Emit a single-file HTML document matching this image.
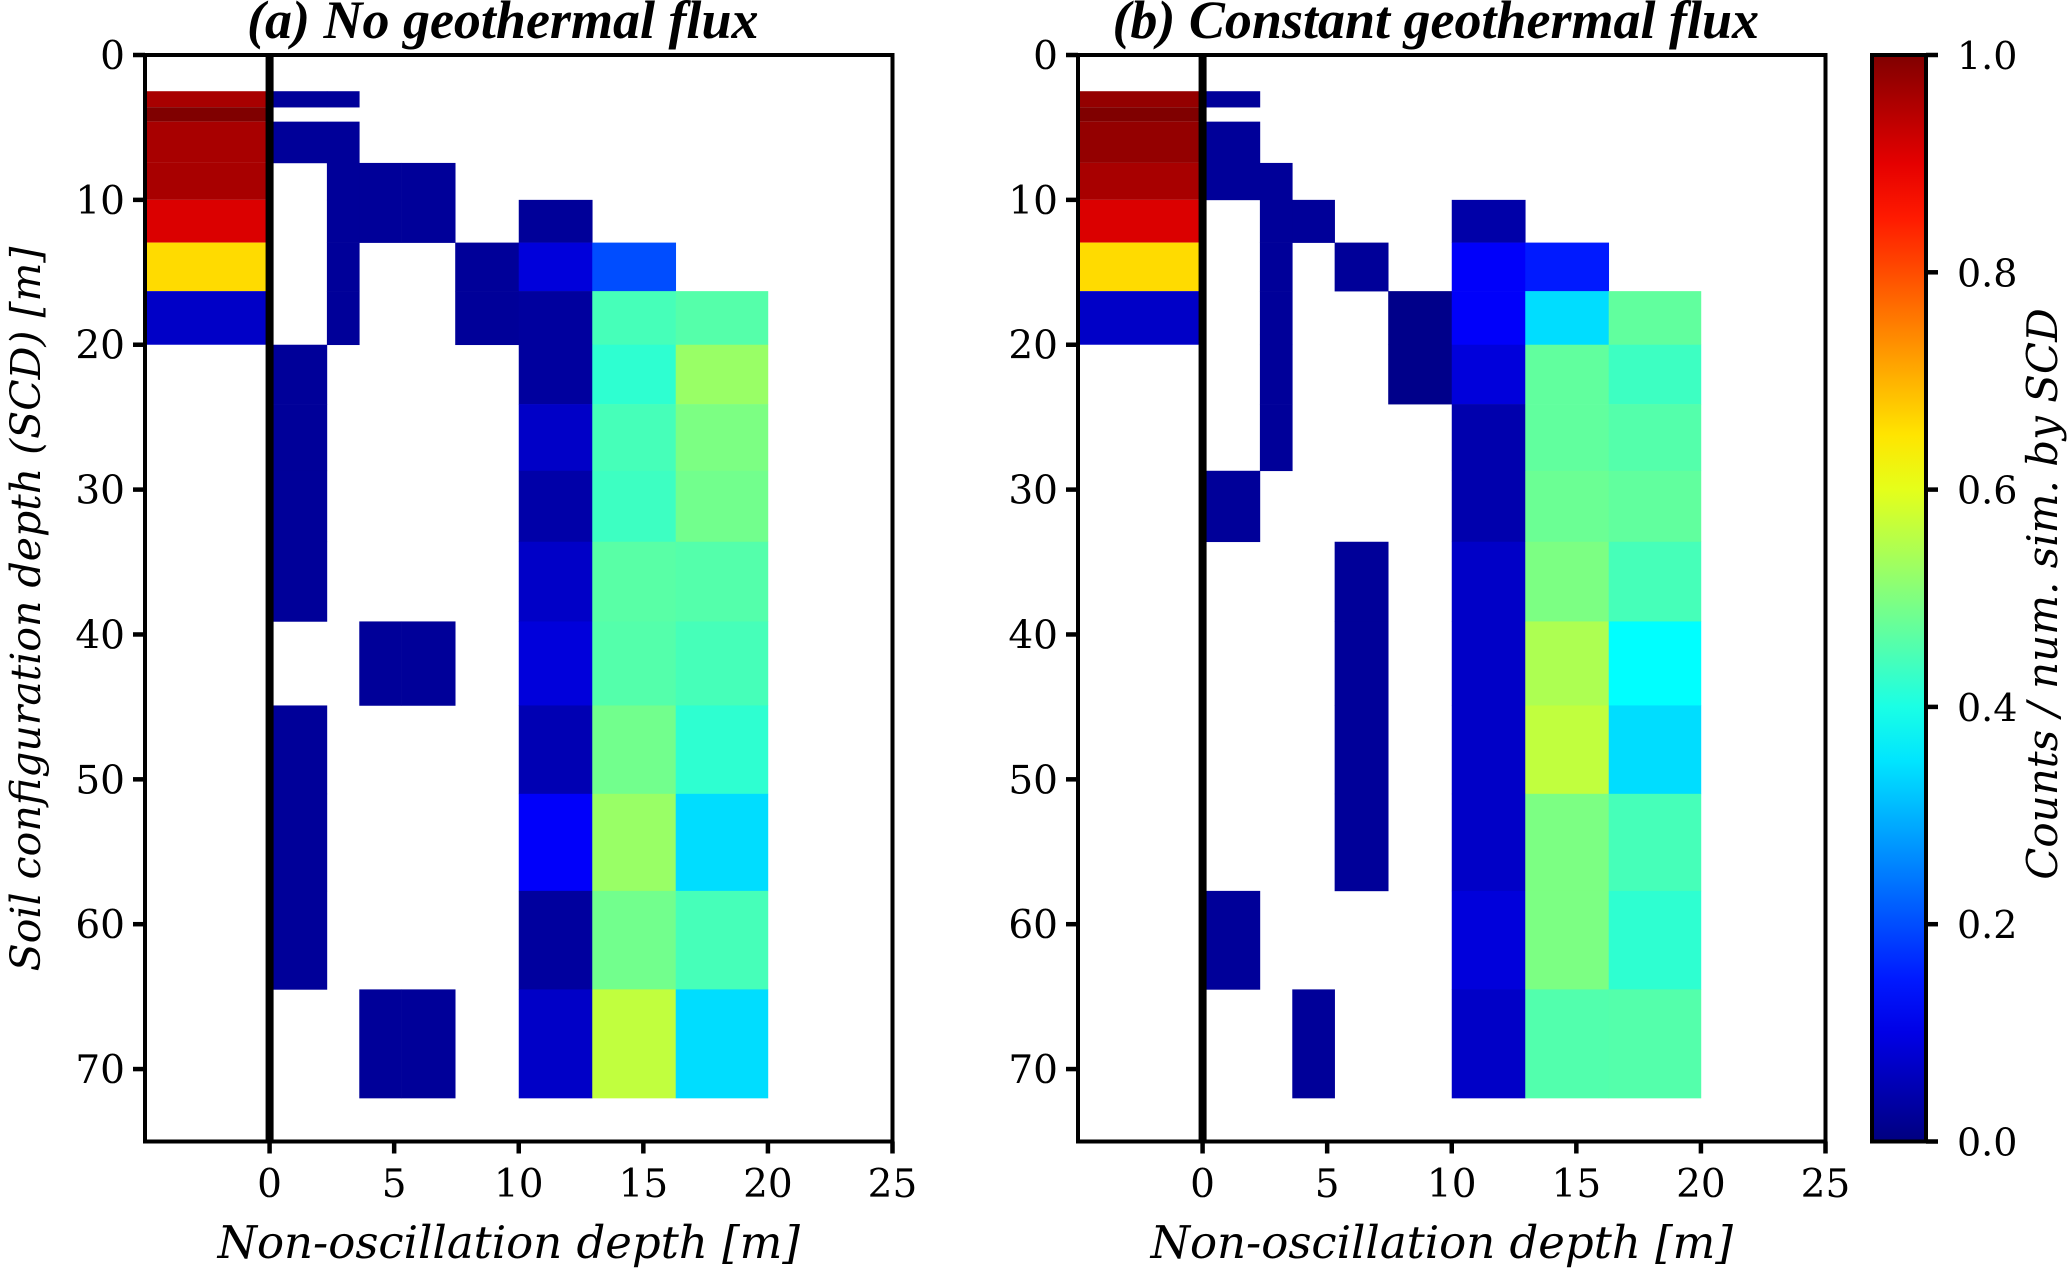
<!DOCTYPE html>
<html><head><meta charset="utf-8"><style>
html,body{margin:0;padding:0;background:#fff;}
svg{display:block;font-family:"DejaVu Serif","Liberation Serif",serif;}
</style></head><body>
<svg id="chart" width="2067" height="1271" viewBox="0 0 2067 1271" xmlns="http://www.w3.org/2000/svg"></svg>
<script>
// ---- data ----
const rowEdges = [2.5, 3.6, 4.6, 7.45, 10, 12.95, 16.3, 20, 24.1, 28.7, 33.6, 39.1, 44.9, 51, 57.7, 64.5, 72];
const colEdges = [0, 2.3, 3.6, 5.3, 7.45, 10, 12.95, 16.3, 20];
const scdLeftA = [0.96, 1.0, 0.96, 0.96, 0.91, 0.66, 0.07, null, null, null, null, null, null, null, null, null];
const scdLeftB = [0.98, 1.0, 0.98, 0.96, 0.91, 0.66, 0.07, null, null, null, null, null, null, null, null, null];
const N = null;
const valuesA = [
  [0.025, 0.025, N, N, N, N, N, N],
  [N, N, N, N, N, N, N, N],
  [0.025, 0.025, N, N, N, N, N, N],
  [N, 0.025, 0.025, 0.025, N, N, N, N],
  [N, 0.025, 0.025, 0.025, N, 0.025, N, N],
  [N, 0.025, N, N, 0.025, 0.09, 0.2, N],
  [N, 0.025, N, N, 0.025, 0.03, 0.444, 0.458],
  [0.025, N, N, N, N, 0.03, 0.42, 0.525],
  [0.025, N, N, N, N, 0.07, 0.444, 0.497],
  [0.025, N, N, N, N, 0.04, 0.435, 0.487],
  [0.025, N, N, N, N, 0.07, 0.462, 0.457],
  [N, N, 0.025, 0.025, N, 0.09, 0.457, 0.444],
  [0.025, N, N, N, N, 0.05, 0.487, 0.42],
  [0.025, N, N, N, N, 0.12, 0.525, 0.342],
  [0.025, N, N, N, N, 0.03, 0.487, 0.444],
  [N, N, 0.025, 0.025, N, 0.07, 0.564, 0.342]
];
const valuesB = [
  [0.025, N, N, N, N, N, N, N],
  [N, N, N, N, N, N, N, N],
  [0.025, N, N, N, N, N, N, N],
  [0.025, 0.025, N, N, N, N, N, N],
  [N, 0.025, 0.025, N, N, 0.04, N, N],
  [N, 0.025, N, 0.025, N, 0.12, 0.15, N],
  [N, 0.025, N, N, 0.01, 0.12, 0.342, 0.47],
  [N, 0.025, N, N, 0.01, 0.09, 0.47, 0.435],
  [N, 0.025, N, N, N, 0.045, 0.47, 0.457],
  [0.025, N, N, N, N, 0.045, 0.48, 0.47],
  [N, N, N, 0.025, N, 0.07, 0.497, 0.444],
  [N, N, N, 0.025, N, 0.07, 0.545, 0.375],
  [N, N, N, 0.025, N, 0.07, 0.564, 0.342],
  [N, N, N, 0.025, N, 0.07, 0.497, 0.444],
  [0.025, N, N, N, N, 0.09, 0.497, 0.42],
  [N, N, 0.025, N, N, 0.07, 0.455, 0.457]
];
const xTicks = [0, 5, 10, 15, 20, 25];
const yTicks = [0, 10, 20, 30, 40, 50, 60, 70];
const cbTicks = [0.0, 0.2, 0.4, 0.6, 0.8, 1.0];

// ---- drawing ----
const NS = "http://www.w3.org/2000/svg";
const svg = document.getElementById('chart');
function el(tag, attrs, parent){const e=document.createElementNS(NS,tag);for(const k in attrs)e.setAttribute(k,attrs[k]);(parent||svg).appendChild(e);return e;}
function clip(v){return Math.max(0,Math.min(1,v));}
function jet(v){const r=clip(1.5-Math.abs(4*v-3)),g=clip(1.5-Math.abs(4*v-2)),b=clip(1.5-Math.abs(4*v-1));return `rgb(${Math.round(r*255)},${Math.round(g*255)},${Math.round(b*255)})`;}

const X0=-5, X1=25, Y0=0, Y1=75, TOP=55, BOT=1141.5;
function drawPanel(left, right, title, leftCol, values, name){
  const g = el('g', {});
  
  
  const sx = v => left + (v - X0) / (X1 - X0) * (right - left);
  const sy = v => TOP + (v - Y0) / (Y1 - Y0) * (BOT - TOP);
  for (let r = 0; r < leftCol.length; r++) {
    if (leftCol[r] === null) continue;
    const c = el('rect', {x: sx(-5), y: sy(rowEdges[r]), width: sx(0)-sx(-5), height: sy(rowEdges[r+1])-sy(rowEdges[r]), fill: jet(leftCol[r])}, g);
    
    
  }
  for (let r = 0; r < values.length; r++) for (let k = 0; k < values[r].length; k++) {
    const v = values[r][k]; if (v === null) continue;
    const c = el('rect', {x: sx(colEdges[k]), y: sy(rowEdges[r]), width: sx(colEdges[k+1])-sx(colEdges[k])+0.3, height: sy(rowEdges[r+1])-sy(rowEdges[r])+0.3, fill: jet(v)}, g);
    
    
  }
  const zl = el('line', {x1: sx(0), x2: sx(0), y1: TOP, y2: BOT, stroke: '#000', 'stroke-width': 8}, g);
  
  
  const fr = el('rect', {x: left, y: TOP, width: right-left, height: BOT-TOP, fill: 'none', stroke: '#000', 'stroke-width': 4}, g);
  
  
  xTicks.forEach(t => {
    const x = sx(t);
    el('line', {x1: x, x2: x, y1: BOT, y2: BOT+12, stroke: '#000', 'stroke-width': 4.5}, g);
    const tx = el('text', {x: x, y: 1197, 'font-size': 39, 'text-anchor': 'middle'}, g);
    tx.textContent = t;
    
    
  });
  yTicks.forEach(t => {
    const y = sy(t);
    el('line', {x1: left-12, x2: left, y1: y, y2: y, stroke: '#000', 'stroke-width': 4.5}, g);
    const tx = el('text', {x: left-20, y: y+14, 'font-size': 39, 'text-anchor': 'end'}, g);
    tx.textContent = t;
    
    
  });
  const xl = el('text', {x: (left+right)/2 - 10, y: 1258, 'font-size': 45, 'font-style': 'italic', 'text-anchor': 'middle'}, g);
  xl.textContent = 'Non-oscillation depth [m]';
  
  
  const tt = el('text', {x: (left+right)/2 - 16, y: 38, 'font-size': 54, 'font-style': 'italic', 'font-weight': 'bold', 'text-anchor': 'middle', 'font-family': '"Liberation Serif", serif'}, g);
  tt.textContent = title;
  
  
}
drawPanel(145, 892.5, '(a) No geothermal flux', scdLeftA, valuesA, 'panel-a');
drawPanel(1078, 1825.5, '(b) Constant geothermal flux', scdLeftB, valuesB, 'panel-b');

const yl = el('text', {x: 0, y: 0, 'font-size': 41, 'font-style': 'italic', 'text-anchor': 'middle', transform: 'translate(40,609) rotate(-90)'});
yl.textContent = 'Soil configuration depth (SCD) [m]';



// colorbar
const CBL=1872, CBR=1926;
const defs = el('defs', {});
const grad = el('linearGradient', {id: 'jetg', x1: 0, y1: 1, x2: 0, y2: 0}, defs);
for (let i = 0; i <= 20; i++) el('stop', {offset: i/20, 'stop-color': jet(i/20)}, grad);
const cb = el('rect', {x: CBL, y: TOP, width: CBR-CBL, height: BOT-TOP, fill: 'url(#jetg)', stroke: '#000', 'stroke-width': 4});


cbTicks.forEach(t => {
  const y = BOT - t * (BOT - TOP);
  el('line', {x1: CBR, x2: CBR+12, y1: y, y2: y, stroke: '#000', 'stroke-width': 4.5});
  const tx = el('text', {x: 1957, y: y+14, 'font-size': 38});
  tx.textContent = t.toFixed(1);
  
  
});
const cl = el('text', {x: 0, y: 0, 'font-size': 42, 'font-style': 'italic', 'text-anchor': 'middle', transform: 'translate(2057,594) rotate(-90)'});
cl.textContent = 'Counts / num. sim. by SCD';


</script>
</body></html>
